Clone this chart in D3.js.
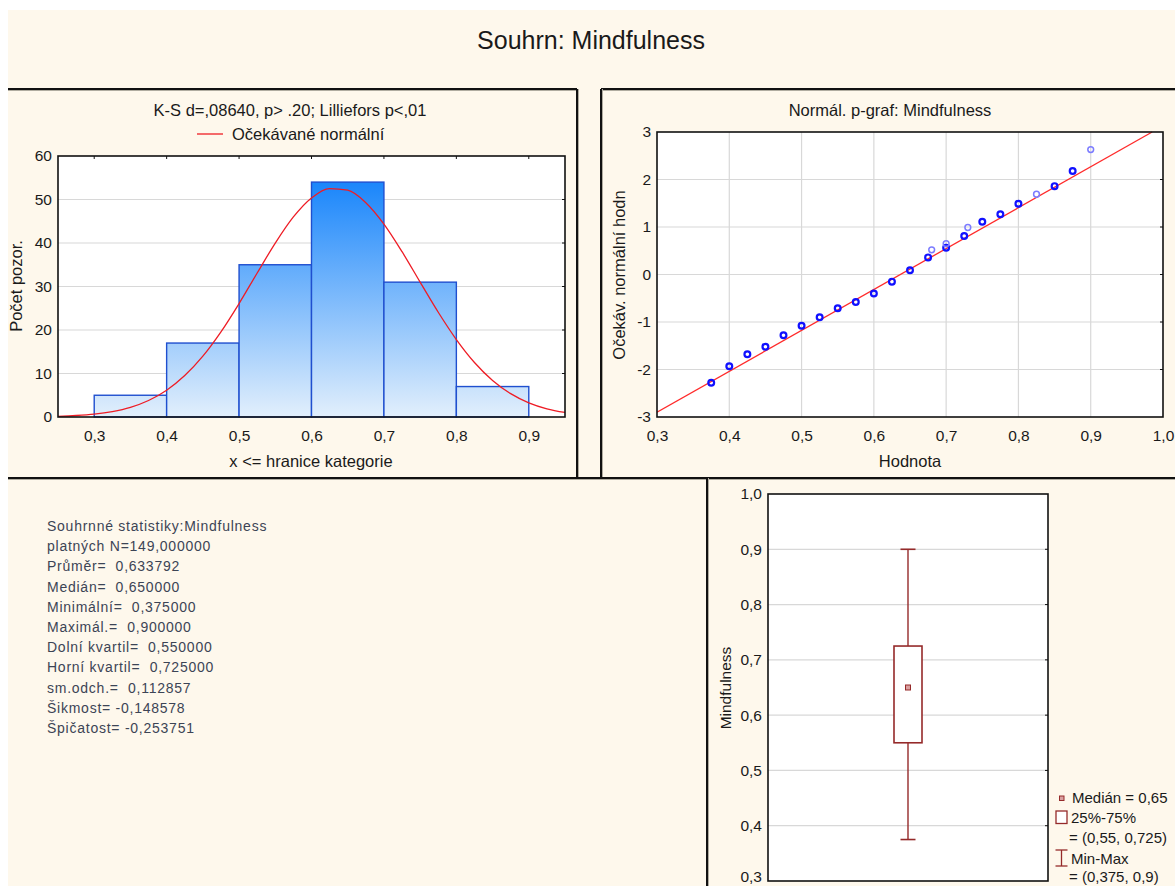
<!DOCTYPE html>
<html lang="cs">
<head>
<meta charset="utf-8">
<title>Souhrn: Mindfulness</title>
<script src="https://d3js.org/d3.v7.min.js"></script>
<style>
  body { margin: 0; background: #fff; font-family: "Liberation Sans", Arial, sans-serif; }
  svg text { font-family: "Liberation Sans", Arial, sans-serif; fill: #1a1a1a; }
  .grid line { stroke: #d8d8d8; stroke-width: 1.2; }
  .stats text { fill: #3c4455; font-size: 14px; letter-spacing: 0.75px; white-space: pre; }
</style>
</head>
<body>
<svg id="chart" width="1175" height="886"></svg>
<script>
// ---------------- data ----------------
var histBins = [0.3, 0.4, 0.5, 0.6, 0.7, 0.8];      // bin start, width 0.1
var histCounts = [5, 17, 35, 54, 31, 7];
var histTicksX = [0.3, 0.4, 0.5, 0.6, 0.7, 0.8, 0.9];
var histTicksY = [0, 10, 20, 30, 40, 50, 60];

// expected normal curve
var curveX = [0.25, 0.275, 0.3, 0.325, 0.35, 0.375, 0.4, 0.425, 0.45, 0.475, 0.5, 0.525, 0.55, 0.575,
              0.6, 0.625, 0.65, 0.675, 0.7, 0.725, 0.75, 0.775, 0.8, 0.825, 0.85, 0.875, 0.9, 0.925, 0.95];
var curveY = [0.16, 0.34, 0.66, 1.25, 2.23, 3.8, 6.16, 9.52, 13.98, 19.57, 26.08, 33.1, 39.98, 45.99,
              50.36, 52.51, 52.13, 49.27, 44.35, 38.0, 31.0, 24.08, 17.81, 12.54, 8.41, 5.37, 3.26, 1.89, 1.04];

// normal probability plot
var ppX = [0.375, 0.4, 0.425, 0.45, 0.475, 0.5, 0.525, 0.55, 0.575, 0.6, 0.625, 0.65, 0.675, 0.68,
           0.7, 0.7, 0.725, 0.73, 0.75, 0.775, 0.8, 0.825, 0.85, 0.875, 0.9];
var ppY = [-2.28, -1.93, -1.68, -1.52, -1.28, -1.08, -0.9, -0.71, -0.58, -0.4, -0.15, 0.09, 0.36, 0.52,
           0.565, 0.65, 0.81, 0.99, 1.11, 1.27, 1.49, 1.69, 1.86, 2.18, 2.63];
var ppTies = [1, 1, 1, 1, 1, 1, 1, 1, 1, 1, 1, 1, 1, 0, 1, 0, 1, 0, 1, 1, 1, 0, 1, 1, 0];
var ppLineX = [0.3, 0.985];
var ppLineY = [-2.9, 3.0];
var ppTicksX = [0.3, 0.4, 0.5, 0.6, 0.7, 0.8, 0.9, 1.0];
var ppTicksY = [-3, -2, -1, 0, 1, 2, 3];

// box plot
var boxMin = 0.375, boxQ1 = 0.55, boxMedian = 0.65, boxQ3 = 0.725, boxMax = 0.9;
var boxTicksY = [0.3, 0.4, 0.5, 0.6, 0.7, 0.8, 0.9, 1.0];

var statLines = [
  "Souhrnné statistiky:Mindfulness",
  "platných N=149,000000",
  "Průměr=  0,633792",
  "Medián=  0,650000",
  "Minimální=  0,375000",
  "Maximál.=  0,900000",
  "Dolní kvartil=  0,550000",
  "Horní kvartil=  0,725000",
  "sm.odch.=  0,112857",
  "Šikmost= -0,148578",
  "Špičatost= -0,253751"
];

// ---------------- helpers ----------------
var fmt1 = function (v) { return d3.format(".1f")(v).replace(".", ","); };
var fmt0 = d3.format("d");
var svg = d3.select("#chart");
var cream = "#fef8ec";
var labelSize = "16.5px", tickSize = "15.5px";

svg.append("rect").attr("x", 8).attr("y", 10).attr("width", 1167).attr("height", 876).attr("fill", cream);

svg.append("text").attr("x", 591).attr("y", 49).attr("text-anchor", "middle")
  .style("font-size", "25px").text("Souhrn: Mindfulness");

// panel frames
function hline(x1, x2, y) {
  svg.append("line").attr("x1", x1).attr("x2", x2).attr("y1", y + 1.5).attr("y2", y + 1.5).attr("stroke", "#b0aca0").attr("stroke-width", 1);
  svg.append("line").attr("x1", x1).attr("x2", x2).attr("y1", y).attr("y2", y).attr("stroke", "#111").attr("stroke-width", 2);
}
function vline(x, y1, y2) {
  svg.append("line").attr("x1", x + 1.5).attr("x2", x + 1.5).attr("y1", y1).attr("y2", y2).attr("stroke", "#b0aca0").attr("stroke-width", 1);
  svg.append("line").attr("x1", x).attr("x2", x).attr("y1", y1).attr("y2", y2).attr("stroke", "#111").attr("stroke-width", 2);
}
hline(8, 577, 89);
hline(601, 1175, 89);
vline(577, 89, 478);
vline(601, 89, 478);
hline(8, 1175, 478);
vline(707, 478, 886);

function frameAndTicks(g, x, y, xticks, yticks) {
  var x0 = x.range()[0], x1 = x.range()[1], y0 = y.range()[0], y1 = y.range()[1];
  g.append("rect").attr("x", x0).attr("y", y1).attr("width", x1 - x0).attr("height", y0 - y1)
    .attr("fill", "none").attr("stroke", "#111").attr("stroke-width", 1.6);
  if (xticks) {
    g.selectAll(null).data(xticks).enter().append("line")
      .attr("x1", function (d) { return x(d); }).attr("x2", function (d) { return x(d); })
      .attr("y1", y1).attr("y2", y1 + 3).attr("stroke", "#111");
  }
  if (yticks) {
    g.selectAll(null).data(yticks).enter().append("line")
      .attr("y1", function (d) { return y(d); }).attr("y2", function (d) { return y(d); })
      .attr("x1", x1).attr("x2", x1 - 3).attr("stroke", "#111");
  }
}
function styleAxis(a) {
  a.select(".domain").remove();
  a.selectAll("text").style("font-size", tickSize).attr("fill", "#1a1a1a");
}

// ---------------- histogram ----------------
var hx = d3.scaleLinear().domain([0.25, 0.95]).range([58, 565]);
var hy = d3.scaleLinear().domain([0, 60]).range([417, 156]);
var hg = svg.append("g");

hg.append("rect").attr("x", 58).attr("y", 156).attr("width", 507).attr("height", 261).attr("fill", "#fff");

var grad = svg.append("defs").append("linearGradient").attr("id", "barGrad")
  .attr("gradientUnits", "userSpaceOnUse")
  .attr("x1", 0).attr("x2", 0).attr("y1", hy(54)).attr("y2", hy(0));
grad.append("stop").attr("offset", 0).attr("stop-color", "#1a86fb");
grad.append("stop").attr("offset", 1).attr("stop-color", "#e2effc");

hg.append("g").attr("class", "grid").selectAll("line").data(histTicksY.slice(1, -1)).enter().append("line")
  .attr("x1", 58).attr("x2", 565)
  .attr("y1", function (d) { return hy(d); }).attr("y2", function (d) { return hy(d); });

hg.selectAll("rect.bar").data(histCounts).enter().append("rect").attr("class", "bar")
  .attr("x", function (d, i) { return hx(histBins[i]); })
  .attr("width", function (d, i) { return hx(histBins[i] + 0.1) - hx(histBins[i]); })
  .attr("y", function (d) { return hy(d); })
  .attr("height", function (d) { return hy(0) - hy(d); })
  .attr("fill", "url(#barGrad)").attr("stroke", "#1f4fcf").attr("stroke-width", 1.4);

hg.append("path").datum(curveX)
  .attr("d", d3.line().curve(d3.curveMonotoneX)
    .x(function (d) { return hx(d); })
    .y(function (d, i) { return hy(curveY[i]); }))
  .attr("fill", "none").attr("stroke", "#ee1c25").attr("stroke-width", 1.3);

frameAndTicks(hg, hx, hy, histTicksX, histTicksY.slice(1, -1));

hg.append("g").attr("transform", "translate(0,417)")
  .call(d3.axisBottom(hx).tickValues(histTicksX).tickFormat(fmt1).tickSize(0).tickPadding(13))
  .call(styleAxis);
hg.append("g").attr("transform", "translate(58,0)")
  .call(d3.axisLeft(hy).tickValues(histTicksY).tickFormat(fmt0).tickSize(0).tickPadding(6))
  .call(styleAxis);

hg.append("text").attr("x", 290).attr("y", 116).attr("text-anchor", "middle").style("font-size", labelSize)
  .text("K-S d=,08640, p> .20; Lilliefors p<,01");
hg.append("line").attr("x1", 197).attr("x2", 223).attr("y1", 134).attr("y2", 134).attr("stroke", "#ee1c25").attr("stroke-width", 1.3);
hg.append("text").attr("x", 232).attr("y", 140).style("font-size", labelSize).text("Očekávané normální");
hg.append("text").attr("x", 311).attr("y", 467).attr("text-anchor", "middle").style("font-size", labelSize)
  .text("x <= hranice kategorie");
hg.append("text").attr("transform", "translate(22,286) rotate(-90)").attr("text-anchor", "middle")
  .style("font-size", labelSize).text("Počet pozor.");

// ---------------- normal probability plot ----------------
var px = d3.scaleLinear().domain([0.3, 1.0]).range([657, 1163]);
var py = d3.scaleLinear().domain([-3, 3]).range([417, 132]);
var pg = svg.append("g");

pg.append("rect").attr("x", 657).attr("y", 132).attr("width", 506).attr("height", 285).attr("fill", "#fff");
var pgrid = pg.append("g").attr("class", "grid");
pgrid.selectAll(null).data(ppTicksX.slice(1, -1)).enter().append("line")
  .attr("x1", function (d) { return px(d); }).attr("x2", function (d) { return px(d); })
  .attr("y1", 132).attr("y2", 417);
pgrid.selectAll(null).data(ppTicksY.slice(1, -1)).enter().append("line")
  .attr("y1", function (d) { return py(d); }).attr("y2", function (d) { return py(d); })
  .attr("x1", 657).attr("x2", 1163);

pg.append("clipPath").attr("id", "ppClip").append("rect")
  .attr("x", 657).attr("y", 128).attr("width", 506).attr("height", 289);
pg.append("line").attr("clip-path", "url(#ppClip)")
  .attr("x1", px(ppLineX[0])).attr("y1", py(ppLineY[0]))
  .attr("x2", px(ppLineX[1])).attr("y2", py(ppLineY[1]))
  .attr("stroke", "#ff2a2a").attr("stroke-width", 1.3);

pg.selectAll("circle").data(ppX).enter().append("circle")
  .attr("cx", function (d) { return px(d); })
  .attr("cy", function (d, i) { return py(ppY[i]); })
  .attr("r", 2.9).attr("fill", "none")
  .attr("stroke", function (d, i) { return ppTies[i] ? "#1010ff" : "#7c7cff"; })
  .attr("stroke-width", function (d, i) { return ppTies[i] ? 2.2 : 1.5; });

frameAndTicks(pg, px, py, null, ppTicksY.slice(1, -1));

pg.append("g").attr("transform", "translate(0,417)")
  .call(d3.axisBottom(px).tickValues(ppTicksX).tickFormat(fmt1).tickSize(0).tickPadding(13))
  .call(styleAxis);
pg.append("g").attr("transform", "translate(657,0)")
  .call(d3.axisLeft(py).tickValues(ppTicksY).tickFormat(function (d) { return d; }).tickSize(0).tickPadding(6))
  .call(styleAxis);

pg.append("text").attr("x", 890).attr("y", 116).attr("text-anchor", "middle").style("font-size", labelSize)
  .text("Normál. p-graf: Mindfulness");
pg.append("text").attr("x", 910).attr("y", 467).attr("text-anchor", "middle").style("font-size", labelSize)
  .text("Hodnota");
pg.append("text").attr("transform", "translate(625,275) rotate(-90)").attr("text-anchor", "middle")
  .style("font-size", labelSize).text("Očekáv. normální hodn");

// ---------------- summary statistics ----------------
svg.append("g").attr("class", "stats").selectAll("text").data(statLines).enter().append("text")
  .attr("x", 47).attr("y", function (d, i) { return 531 + i * 20.2; })
  .attr("xml:space", "preserve")
  .text(function (d) { return d; });

// ---------------- box plot ----------------
var by = d3.scaleLinear().domain([0.3, 1.0]).range([881, 494]);
var bx = d3.scaleLinear().domain([0, 1]).range([768, 1048]);
var bg = svg.append("g");
var boxCol = "#952a2a";

bg.append("rect").attr("x", 768).attr("y", 494).attr("width", 280).attr("height", 387).attr("fill", "#fff");
bg.append("g").attr("class", "grid").selectAll("line").data(boxTicksY.slice(1, -1)).enter().append("line")
  .attr("x1", 768).attr("x2", 1048)
  .attr("y1", function (d) { return by(d); }).attr("y2", function (d) { return by(d); });

var cx = bx(0.5);
bg.append("line").attr("x1", cx).attr("x2", cx).attr("y1", by(boxMax)).attr("y2", by(boxQ3)).attr("stroke", boxCol).attr("stroke-width", 1.4);
bg.append("line").attr("x1", cx).attr("x2", cx).attr("y1", by(boxQ1)).attr("y2", by(boxMin)).attr("stroke", boxCol).attr("stroke-width", 1.4);
[boxMin, boxMax].forEach(function (v) {
  bg.append("line").attr("x1", cx - 7.5).attr("x2", cx + 7.5).attr("y1", by(v)).attr("y2", by(v)).attr("stroke", boxCol).attr("stroke-width", 1.6);
});
bg.append("rect").attr("x", cx - 14).attr("width", 28)
  .attr("y", by(boxQ3)).attr("height", by(boxQ1) - by(boxQ3))
  .attr("fill", "#fff").attr("stroke", boxCol).attr("stroke-width", 1.6);
bg.append("rect").attr("x", cx - 2.5).attr("y", by(boxMedian) - 2.5).attr("width", 5).attr("height", 5)
  .attr("fill", "#d9a0a0").attr("stroke", boxCol).attr("stroke-width", 1);

frameAndTicks(bg, bx, by, null, boxTicksY.slice(1, -1));
bg.append("g").attr("transform", "translate(768,0)")
  .call(d3.axisLeft(by).tickValues(boxTicksY).tickFormat(fmt1).tickSize(0).tickPadding(6))
  .call(styleAxis)
  .call(function (a) {
    // bottom label sits at the page edge; lift it so it stays whole
    a.selectAll(".tick").filter(function (d) { return d === 0.3; }).select("text").attr("dy", "0.05em");
  });
bg.append("text").attr("transform", "translate(731,688) rotate(-90)").attr("text-anchor", "middle")
  .style("font-size", "15.5px").text("Mindfulness");

// legend
var lg = svg.append("g").style("font-size", "15px");
lg.append("rect").attr("x", 1059.5).attr("y", 796).attr("width", 4.5).attr("height", 4.5)
  .attr("fill", "#d9a0a0").attr("stroke", boxCol).attr("stroke-width", 1);
lg.append("text").attr("x", 1072).attr("y", 803).text("Medián = 0,65");
lg.append("rect").attr("x", 1056).attr("y", 811).attr("width", 11).attr("height", 12.5)
  .attr("fill", "#fff").attr("stroke", boxCol).attr("stroke-width", 1.3);
lg.append("text").attr("x", 1071).attr("y", 823).text("25%-75%");
lg.append("text").attr("x", 1069).attr("y", 843).text("= (0,55, 0,725)");
lg.append("line").attr("x1", 1061.5).attr("x2", 1061.5).attr("y1", 850).attr("y2", 866).attr("stroke", boxCol).attr("stroke-width", 1.3);
lg.append("line").attr("x1", 1055.5).attr("x2", 1067.5).attr("y1", 850).attr("y2", 850).attr("stroke", boxCol).attr("stroke-width", 1.3);
lg.append("line").attr("x1", 1055.5).attr("x2", 1067.5).attr("y1", 866).attr("y2", 866).attr("stroke", boxCol).attr("stroke-width", 1.3);
lg.append("text").attr("x", 1071).attr("y", 864).text("Min-Max");
lg.append("text").attr("x", 1069).attr("y", 882).text("= (0,375, 0,9)");
</script>
</body>
</html>
